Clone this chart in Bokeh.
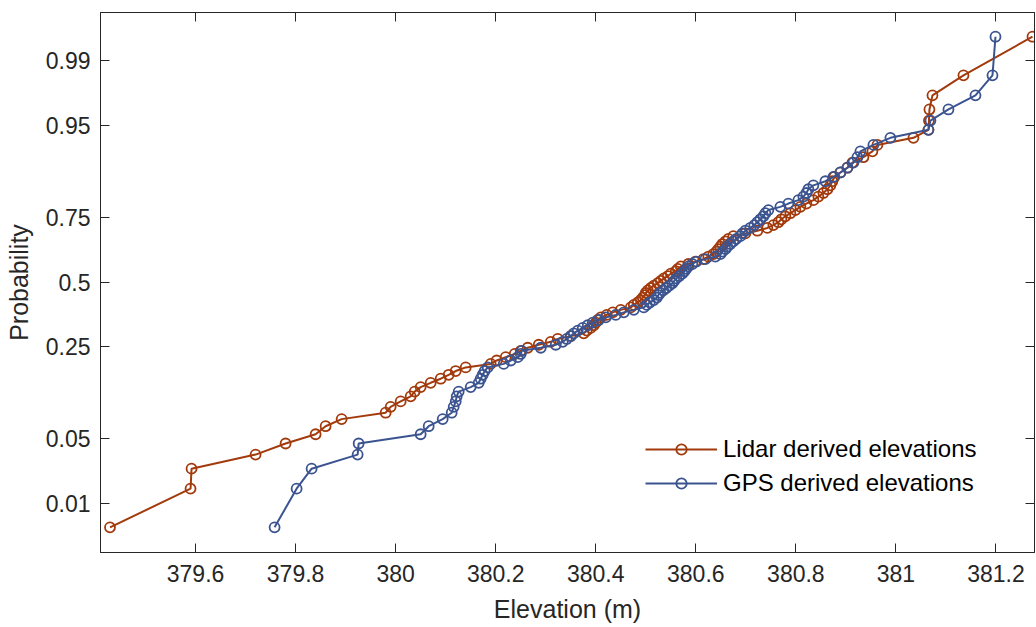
from statistics import NormalDist

from bokeh.plotting import figure
from bokeh.models import (Range1d, FixedTicker, CustomJSTickFormatter, LinearAxis,
                          Legend, LegendItem, ColumnDataSource)
from bokeh.embed import file_html
from bokeh.resources import INLINE

# ---------------- data ----------------
prob_ticks = [0.01, 0.05, 0.25, 0.5, 0.75, 0.95, 0.99]
prob_labels = ["0.01", "0.05", "0.25", "0.5", "0.75", "0.95", "0.99"]

elev_ticks = [379.6, 379.8, 380.0, 380.2, 380.4, 380.6, 380.8, 381.0, 381.2]
elev_labels = ["379.6", "379.8", "380", "380.2", "380.4", "380.6", "380.8", "381", "381.2"]

# sorted elevations (m)
lidar_elev = [
    379.429, 379.590, 379.592, 379.720, 379.780, 379.840, 379.860, 379.892, 379.980, 379.990,
    380.010, 380.030, 380.038, 380.050, 380.070, 380.090, 380.106, 380.120, 380.140, 380.190,
    380.202, 380.220, 380.238, 380.250, 380.264, 380.286, 380.310, 380.324, 380.350, 380.376,
    380.382, 380.390, 380.396, 380.400, 380.404, 380.410, 380.422, 380.434, 380.450, 380.470,
    380.476, 380.484, 380.490, 380.494, 380.498, 380.500, 380.504, 380.510, 380.516, 380.524,
    380.530, 380.536, 380.544, 380.550, 380.560, 380.564, 380.570, 380.585, 380.599, 380.615,
    380.625, 380.635, 380.641, 380.645, 380.649, 380.653, 380.659, 380.665, 380.675, 380.699,
    380.723, 380.743, 380.755, 380.765, 380.771, 380.779, 380.789, 380.799, 380.809, 380.821,
    380.835, 380.845, 380.855, 380.863, 380.869, 380.873, 380.877, 380.889, 380.903, 380.913,
    380.935, 380.953, 380.963, 381.035, 381.065, 381.066, 381.067, 381.073, 381.135, 381.273,
]

gps_elev = [
    379.758, 379.802, 379.832, 379.924, 379.926, 380.050, 380.066, 380.094, 380.112, 380.116,
    380.120, 380.122, 380.126, 380.150, 380.166, 380.170, 380.174, 380.178, 380.184, 380.216,
    380.230, 380.244, 380.250, 380.252, 380.290, 380.320, 380.334, 380.342, 380.350, 380.356,
    380.364, 380.374, 380.384, 380.394, 380.406, 380.420, 380.440, 380.456, 380.476, 380.496,
    380.502, 380.508, 380.516, 380.522, 380.525, 380.529, 380.535, 380.541, 380.547, 380.553,
    380.557, 380.561, 380.567, 380.573, 380.577, 380.581, 380.585, 380.593, 380.601, 380.619,
    380.639, 380.649, 380.653, 380.659, 380.663, 380.669, 380.675, 380.681, 380.689, 380.693,
    380.699, 380.709, 380.717, 380.723, 380.729, 380.735, 380.739, 380.745, 380.769, 380.785,
    380.805, 380.815, 380.821, 380.825, 380.835, 380.859, 380.875, 380.889, 380.903, 380.915,
    380.923, 380.929, 380.955, 380.989, 381.065, 381.069, 381.105, 381.159, 381.193, 381.199,
]

series_names = ["Lidar derived elevations", "GPS derived elevations"]
series_colors = ["#A23A0C", "#3B5490"]

# ---------------- normal probability scale ----------------
nd = NormalDist()


def plotting_positions(vals):
    n = len(vals)
    return [nd.inv_cdf((i + 0.5) / n) for i in range(n)]


prob_z = [nd.inv_cdf(p) for p in prob_ticks]

FONT = "Liberation Sans"
TXT = "#262626"

p = figure(width=1036, height=627, output_backend="svg", toolbar_location=None,
           x_range=Range1d(379.41, 381.277), y_range=Range1d(-2.84, 2.83),
           x_axis_location=None, y_axis_location=None,
           min_border_left=100, min_border_right=2, min_border_top=12, min_border_bottom=75)
p.grid.visible = False
p.outline_line_color = TXT
p.outline_line_width = 1
p.background_fill_color = "white"
p.border_fill_color = "white"

LOOKUP = """
let best = 0, d = Infinity;
for (let i = 0; i < vals.length; i++) { const e = Math.abs(tick - vals[i]); if (e < d) { d = e; best = i; } }
return labels[best];
"""
x_fmt = CustomJSTickFormatter(args=dict(vals=elev_ticks, labels=elev_labels), code=LOOKUP)
y_fmt = CustomJSTickFormatter(args=dict(vals=prob_z, labels=prob_labels), code=LOOKUP)


def style(ax):
    ax.major_tick_in = 9
    ax.major_tick_out = 0
    ax.minor_tick_line_color = None
    ax.axis_line_color = TXT
    ax.major_tick_line_color = TXT
    ax.major_label_text_font = FONT
    ax.major_label_text_color = TXT
    ax.major_label_text_font_size = "23px"
    ax.axis_label_text_font = FONT
    ax.axis_label_text_color = TXT
    ax.axis_label_text_font_style = "normal"
    ax.axis_label_text_font_size = "25px"


xb = LinearAxis(ticker=FixedTicker(ticks=elev_ticks), formatter=x_fmt, axis_label="Elevation (m)")
style(xb)
xb.major_label_standoff = 12
xb.axis_label_standoff = 10
p.add_layout(xb, "below")

yl = LinearAxis(ticker=FixedTicker(ticks=prob_z), formatter=y_fmt, axis_label="Probability")
style(yl)
yl.major_label_standoff = 10
yl.axis_label_standoff = 10
p.add_layout(yl, "left")

# mirrored tick marks on the top and right edges (box style), no labels
for ticks, loc in [(elev_ticks, "above"), (prob_z, "right")]:
    ax = LinearAxis(ticker=FixedTicker(ticks=ticks))
    style(ax)
    ax.major_label_text_font_size = "1px"
    ax.major_label_text_color = None
    ax.major_label_standoff = 0
    p.add_layout(ax, loc)

items = []
for name, vals, col in zip(series_names, [lidar_elev, gps_elev], series_colors):
    src = ColumnDataSource(dict(x=vals, y=plotting_positions(vals)))
    lr = p.line("x", "y", source=src, line_color=col, line_width=2)
    sr = p.scatter("x", "y", source=src, marker="circle", size=10, fill_color=None,
                   line_color=col, line_width=1.8)
    items.append(LegendItem(label=name, renderers=[lr, sr]))

legend = Legend(items=items, location=(545, 55))
legend.border_line_color = None
legend.background_fill_alpha = 0
legend.padding = 0
legend.margin = 0
legend.spacing = 6
legend.glyph_width = 72
legend.glyph_height = 26
legend.label_height = 26
legend.label_standoff = 6
legend.label_text_font = FONT
legend.label_text_font_size = "24px"
legend.label_text_color = "#000000"
p.add_layout(legend)

open("out.html", "w").write(file_html(p, INLINE))
